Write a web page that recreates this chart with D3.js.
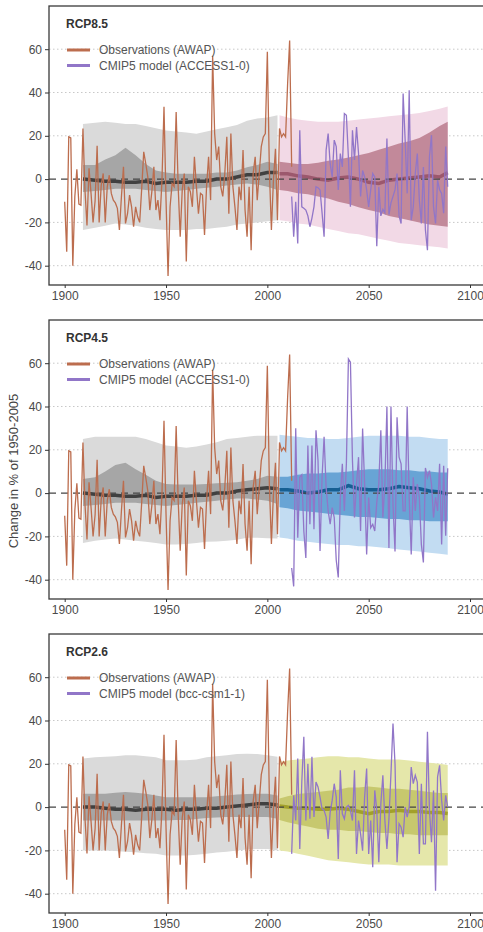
<!DOCTYPE html>
<html>
<head>
<meta charset="utf-8">
<script src="https://cdn.jsdelivr.net/npm/d3@7"></script>
<style>
  body { margin: 0; background: #fff; }
  svg { display: block; }
  text { font-family: "Liberation Sans", Arial, sans-serif; }
</style>
</head>
<body>
<svg id="chart" width="483" height="932"></svg>
<script>
//------------------------------------------------------//
// Data
//------------------------------------------------------//
const obsFirstYear = 1900;
const obsValues = [
  -10.5, -33.5, 19.5, 19, -40, -8, 4.5, -11.5, -12, 23.4,
  -5, -21.4, 5, -6.6, -20, -10, 15.4, -20, -3, 2.6,
  -20, -3.5, 1.8, -6.6, -9.7, -11, -13.5, -23.5, -8, 5.7,
  -20.5, -16, -7.4, -12.8, -22, -12.8, -17.4, -20, -4.3, 12.6,
  7.2, 1, -14.3, -5.8, 5.7, -14.3, -9.7, -19, -0.5, 33.4,
  -9.7, -44.8, -12.8, -2, -3.5, 31, -3.5, -26.6, -5, 2.6,
  -38, -3.5, -5.8, -12.8, 10.3, -3.5, -16, -6.6, -7.4, -25.8,
  -3.5, 10.3, -9.7, 57, 21, 8.8, 15, -3.5, -8, 2.6,
  19.5, -16, 21, -3.5, -12.8, -23.5, -3.5, -9.7, 13.4, -14.3,
  -26.6, -3.5, -32.8, 2.6, 10.3, -9.7, 2.6, 15, 19.5, 21,
  58.8, 4, -23.5, -0.5, 14, -19, 23.4, 19.5, 21, 19.5,
  44, 64, 5.7
];

const modelFirstYear = 2012;
const modelRcp85 = [
  -8, -26.6, -10.5, -29.7, 22.6, -12.8, -13.5, -14.3, -17, -22,
  -18, -12.8, -3.5, -4, -5, -15.6, -26.6, 13.4, 21, 7,
  1, 18, 15, -5, 11.8, 5.6, 30.3, 29.5, 10, -12.8,
  22.6, 8.8, 24, 11.8, -8, 4, 1, -5, -12.8, -5,
  2.6, 1, -31, -3.5, -17, -14, -15.6, 18.8, -16.4, -11,
  -8, -5, 2.6, -17, -20.5, 39.5, 18, -6.6, 41, -19,
  -12.8, 2.6, 11.8, -9.7, -20.5, 5.6, -23.5, -32.8, 10.3, 20.3,
  -12.8, -20.5, -0.5, -5, -6.6, -15.8, 15, -3.5
];
const modelRcp45 = [
  -34.6, -43.1, 30, -20.6, 7.3, 8.5, -17.5, -30, 22, -14.4,
  22, -16.7, 29, 15, -26.7, 7.3, 26, 2.6, -8.2, -14.4,
  -6.7, -11.3, -31, -39, -2, 13.5, -8.2, 13.5, 62, 60.5,
  15, -11.3, 4.2, 16.6, -17.5, 29.8, 4.2, -28.4, -2, -16,
  -14.4, -17.5, -4.3, 4.2, 29, -11.3, 4.2, 40, -25.4, 40,
  -5, -27, 35, 16.6, 13.5, -8.2, -8.2, 40, -2, -28.4,
  7.3, -8.2, 4.2, -2, -23.7, -32, 11.6, 7.3, 10.4, 4.2,
  -11.3, -2, -8.2, 13.5, -23.7, 12.6, -19.7, 11.5
];
const modelRcp26 = [
  -21.6, 5.4, -6.2, 22.4, -19.3, 11.6, 32.5, -6.2, 20, -5.4,
  23.2, -4.6, 11.6, 9.3, 4.6, -0.8, -1.5, -4.6, -14.7, -2.3,
  3.1, 10.8, 4.6, -24, 17, -3.1, -5.4, 0, 0.8, -1.5,
  -6.2, 17, -21.6, -6.2, -12.4, -20.1, 4.6, 17.8, -21.6, -6.2,
  -27.8, 7.7, -1.5, -25.5, 1.5, 14.7, -6.2, -19.3, -5.4, 15.5,
  38.6, 20, -25.5, -7.7, -9.3, -13.9, 0, -4.6, 0, 18.5,
  10.8, 14.7, 11.6, -21.6, 10.8, -17, -17, 34.8, -1.5, -16.2,
  7.7, -38.6, 14, 19.3, 3.1, -6.2, 5.4, 0
];

// historical ensemble (1909-2005)
const histYears = [1909, 1915, 1920, 1925, 1930, 1935, 1940, 1945, 1950, 1955,
  1960, 1965, 1970, 1975, 1980, 1985, 1990, 1995, 2000, 2005];

const hist85OuterHi = [25.5, 26, 26.5, 26, 25.5, 25.5, 24.5, 23.5, 22.5, 22, 21.5, 21, 22, 23, 24, 25, 27, 28, 28.5, 29.5];
const hist85OuterLo = [-23.5, -22.5, -21.5, -20.5, -21, -21.5, -22.5, -23, -23.5, -23.5, -23.5, -23, -23, -22.5, -22, -21, -20.5, -20, -19.5, -19];
const hist85InnerHi = [6.5, 6.5, 9, 11, 14.5, 11, 7, 4, 3, 2.5, 2.5, 2.5, 2.5, 3, 3, 4, 5.5, 6.5, 8, 7];
const hist85InnerLo = [-6, -5.5, -5, -4.5, -4.5, -4.5, -5, -5.5, -6, -5.5, -5, -4.5, -4, -3.5, -3, -2.5, -2, -2.5, -3.5, -5];
const hist85Median = [0, -0.5, -1, -1, -1.5, -1.5, -1, -2, -1.5, -1.5, -1.5, -1, -1, 0, 0, 1, 2, 2, 3, 3];

const hist45OuterHi = [25, 26, 26, 26, 26, 26, 25, 23.5, 22, 21.5, 21, 21.5, 22.5, 23.5, 25, 25.5, 26, 26.5, 26.5, 26.5];
const hist45OuterLo = [-23, -22, -21.4, -21, -21.4, -22, -22.5, -23, -23.7, -23.7, -23.5, -23, -22.5, -22.3, -22, -21.5, -20.6, -20.6, -20.8, -21];
const hist45InnerHi = [6.5, 7.3, 10, 13, 14, 11, 8.5, 5.7, 4.2, 4, 4, 4, 4.2, 4.5, 4.8, 5, 5.7, 6.5, 8, 7.5];
const hist45InnerLo = [-6, -5.5, -5, -4.5, -4.5, -4.5, -5, -5.5, -6, -5.5, -5, -4.5, -4, -3.5, -3, -2.5, -2.5, -3, -3.5, -5];
const hist45Median = [0, -0.5, -1, -1, -1.5, -1.5, -1, -2, -1.5, -1.5, -1.5, -1, -1, 0, 0, 1, 1.5, 2, 2.5, 2];

const hist26OuterHi = [22.4, 23, 23.2, 23.5, 24, 24, 23.5, 23, 21.6, 21.6, 21.6, 22, 23, 23.5, 24, 24.5, 24.7, 24.5, 24, 23.2];
const hist26OuterLo = [-20, -20, -20, -20.3, -20.6, -20.9, -21.3, -21.6, -22.4, -22.4, -22.4, -22, -21.6, -21, -20.6, -20, -19.6, -19.3, -19.3, -20];
const hist26InnerHi = [6.2, 6.2, 6.2, 6.6, 7, 6.6, 6.2, 5.4, 4.6, 4.6, 4.6, 4.6, 4.6, 5, 5.4, 5.8, 6, 6.2, 6.2, 5.4];
const hist26InnerLo = [-6.2, -6.2, -6.2, -6.2, -6.2, -6.2, -6.2, -6.2, -6.2, -6, -6, -5.5, -5, -4.8, -4.6, -4.6, -4.6, -4.6, -4.6, -5.4];
const hist26Median = [0, 0, -0.5, -1, -1, -1.5, -1, -1, -1, -1.5, -1, -1, -0.5, -0.5, 0, 0.5, 1, 1.5, 1.5, 1];

// projections (2006-2089)
const futYears = [2006, 2010, 2015, 2020, 2025, 2030, 2035, 2040, 2045, 2050,
  2055, 2060, 2065, 2070, 2075, 2080, 2085, 2089];

const rcp85OuterHi = [29.5, 28.5, 27.5, 27, 26.5, 26.5, 26.5, 27, 27.5, 28, 28.5, 29, 29.5, 30, 30.5, 31.5, 32.5, 33.5];
const rcp85OuterLo = [-19, -19.5, -20.5, -21, -22, -23, -24, -25, -25.5, -26.5, -27.5, -28.5, -29.5, -30, -30.5, -31, -31.5, -32];
const rcp85InnerHi = [8, 7.5, 7, 7, 7.5, 8.5, 9, 10, 11, 12, 13.5, 15, 16.5, 17.5, 19, 21.5, 24.5, 26.5];
const rcp85InnerLo = [-5, -5.5, -6.5, -7, -8, -9, -10.5, -11.5, -13, -14.3, -15.3, -17, -18, -19, -20, -21, -21.5, -22];
const rcp85Median = [2.5, 2.5, 1.5, 1, 0, -0.5, 0.5, 1, 0, -1.5, -2, -0.5, 0, 0.5, 1, 1.5, 1, 3];

const rcp45OuterHi = [27, 26.5, 26, 25.5, 25.5, 25, 25, 25.5, 26, 26.5, 26.5, 26.5, 26.5, 26, 26, 25.5, 25, 25];
const rcp45OuterLo = [-20.5, -21, -22, -22.5, -23, -23.5, -24, -24, -24.5, -24.5, -25, -25.5, -26, -26.5, -27, -27.5, -28, -28.5];
const rcp45InnerHi = [7.5, 7.5, 8.5, 9, 9, 9.5, 9.5, 10, 10.5, 11, 11, 11, 10.5, 10.5, 10, 10, 9.5, 9.5];
const rcp45InnerLo = [-6.5, -7, -8, -8.5, -9, -9.5, -10, -10.5, -11, -11, -11.5, -12, -12, -12.5, -12.5, -13, -13, -13];
const rcp45Median = [1.5, 1.5, 1, 0, 0.5, 1.5, 1.5, 3.5, 2, 1.5, 1.5, 2, 3, 2.5, 2, 1, 0.5, -0.5];

const rcp26OuterHi = [21, 21.5, 22, 22.5, 23, 23.5, 23.5, 23, 23, 22.5, 22, 22, 22, 21.5, 21, 20.5, 20, 19.5];
const rcp26OuterLo = [-20, -20.5, -21.5, -22.5, -23.5, -24.5, -25, -25.5, -26, -26.5, -26.5, -26.5, -27, -27, -27, -27, -27, -27];
const rcp26InnerHi = [4, 5, 6, 6.5, 7, 7.5, 8, 9, 9, 9.5, 9, 8.5, 8.5, 8, 7.5, 7, 6.5, 6.5];
const rcp26InnerLo = [-6, -7, -8, -9, -10, -10.5, -10.5, -11, -11, -11.5, -12, -12, -12.5, -12.5, -13, -13, -13, -13];
const rcp26Median = [0.5, 0, -0.5, -0.5, -1, -1, -0.5, -1, -2, -3, -2, -2, -1.5, -2, -2, -2.5, -2.5, -3];

const yTicks = [-40, -20, 0, 20, 40, 60];
const xTicks = [1900, 1950, 2000, 2050, 2100];

//------------------------------------------------------//
// Panel set-up
//------------------------------------------------------//
const panels = [
  { name: "RCP8.5", model: "CMIP5 model (ACCESS1-0)", modelValues: modelRcp85,
    hist: [hist85OuterHi, hist85OuterLo, hist85InnerHi, hist85InnerLo, hist85Median],
    fut: [rcp85OuterHi, rcp85OuterLo, rcp85InnerHi, rcp85InnerLo, rcp85Median],
    colors: ["#f2d9e6", "#c2899a", "#9c586d"] },
  { name: "RCP4.5", model: "CMIP5 model (ACCESS1-0)", modelValues: modelRcp45,
    hist: [hist45OuterHi, hist45OuterLo, hist45InnerHi, hist45InnerLo, hist45Median],
    fut: [rcp45OuterHi, rcp45OuterLo, rcp45InnerHi, rcp45InnerLo, rcp45Median],
    colors: ["#c2dcf2", "#68a4d5", "#165f93"] },
  { name: "RCP2.6", model: "CMIP5 model (bcc-csm1-1)", modelValues: modelRcp26,
    hist: [hist26OuterHi, hist26OuterLo, hist26InnerHi, hist26InnerLo, hist26Median],
    fut: [rcp26OuterHi, rcp26OuterLo, rcp26InnerHi, rcp26InnerLo, rcp26Median],
    colors: ["#e5e7aa", "#c7c86e", "#a2a02a"] }
];

const panelTops = [6, 320, 634];
const boxLeft = 49, boxRight = 487, boxH = 279;
const obsColor = "#bc6d4e";
const modelColor = "#9176c8";

const svg = d3.select("#chart");
const x = d3.scaleLinear().domain([1900, 2100]).range([64.7, 470]);

const obsData = obsValues.map((v, i) => ({ year: obsFirstYear + i, v }));

panels.forEach((p, i) => {
  const top = panelTops[i];
  const y = d3.scaleLinear().domain([-40, 60]).range([top + 259.7, top + 43.2]);
  const g = svg.append("g");

  const clipId = "clip" + i;
  svg.append("clipPath").attr("id", clipId)
    .append("rect").attr("x", boxLeft).attr("y", top).attr("width", boxRight - boxLeft).attr("height", boxH);
  const plot = g.append("g").attr("clip-path", `url(#${clipId})`);

  // grid
  plot.selectAll(".grid").data(yTicks.filter(t => t !== 0)).join("line")
    .attr("x1", boxLeft).attr("x2", boxRight)
    .attr("y1", d => y(d)).attr("y2", d => y(d))
    .attr("stroke", "#c8c8c8").attr("stroke-width", 1).attr("stroke-dasharray", "1.5,2.5");

  const band = (years, hi, lo) => d3.area()
    .x((d, k) => x(years[k])).y0((d, k) => y(lo[k])).y1((d, k) => y(hi[k]))(years);
  const line = (years, vals) => d3.line()
    .x((d, k) => x(years[k])).y((d, k) => y(vals[k]))(years);

  // historical ensemble
  plot.append("path").attr("d", band(histYears, p.hist[0], p.hist[1])).attr("fill", "#dadada");
  plot.append("path").attr("d", band(histYears, p.hist[2], p.hist[3])).attr("fill", "#a6a6a6");
  // projection ensemble
  plot.append("path").attr("d", band(futYears, p.fut[0], p.fut[1])).attr("fill", p.colors[0]);
  plot.append("path").attr("d", band(futYears, p.fut[2], p.fut[3])).attr("fill", p.colors[1]);

  // medians
  plot.append("path").attr("d", line(histYears, p.hist[4]))
    .attr("fill", "none").attr("stroke", "#404040").attr("stroke-width", 3.5);
  plot.append("path").attr("d", line(futYears, p.fut[4]))
    .attr("fill", "none").attr("stroke", p.colors[2]).attr("stroke-width", 3.5);

  // zero line
  plot.append("line").attr("x1", boxLeft).attr("x2", boxRight)
    .attr("y1", y(0)).attr("y2", y(0))
    .attr("stroke", "#444").attr("stroke-width", 1.4).attr("stroke-dasharray", "7,5");

  // observations and model
  plot.append("path").datum(obsData)
    .attr("d", d3.line().x(d => x(d.year)).y(d => y(d.v)))
    .attr("fill", "none").attr("stroke", obsColor).attr("stroke-width", 1.3);
  const modelData = p.modelValues.map((v, k) => ({ year: modelFirstYear + k, v }));
  plot.append("path").datum(modelData)
    .attr("d", d3.line().x(d => x(d.year)).y(d => y(d.v)))
    .attr("fill", "none").attr("stroke", modelColor).attr("stroke-width", 1.3);

  // frame
  g.append("rect").attr("x", boxLeft).attr("y", top).attr("width", boxRight - boxLeft).attr("height", boxH)
    .attr("fill", "none").attr("stroke", "#3a3a3a").attr("stroke-width", 1.3);

  // axes
  const ya = g.append("g").attr("transform", `translate(${boxLeft},0)`)
    .call(d3.axisLeft(y).tickValues(yTicks).tickSize(4).tickPadding(3).tickFormat(d => String(d)));
  const xa = g.append("g").attr("transform", `translate(0,${top + boxH})`)
    .call(d3.axisBottom(x).tickValues(xTicks).tickSize(3).tickPadding(3).tickFormat(d => String(d)));
  [ya, xa].forEach(a => {
    a.select(".domain").remove();
    a.selectAll(".tick line").attr("stroke", "#333");
    a.selectAll(".tick text").attr("fill", "#4a4a4a").attr("font-size", 12)
      .attr("font-family", "'Liberation Sans', Arial, sans-serif");
  });

  // title
  g.append("text").attr("x", 66).attr("y", top + 22)
    .attr("font-size", 12).attr("font-weight", "bold").attr("fill", "#333").text(p.name);

  // legend
  const legend = [["Observations (AWAP)", obsColor], [p.model, modelColor]];
  legend.forEach(([label, color], k) => {
    const ly = top + 44 + k * 15.5;
    g.append("line").attr("x1", 67).attr("x2", 90).attr("y1", ly).attr("y2", ly)
      .attr("stroke", color).attr("stroke-width", 3);
    g.append("text").attr("x", 99).attr("y", ly).attr("dy", "0.35em")
      .attr("font-size", 12).attr("fill", "#555").text(label);
  });
});

// y-axis title
svg.append("text")
  .attr("transform", "translate(18,471) rotate(-90)")
  .attr("text-anchor", "middle").attr("font-size", 13).attr("fill", "#444")
  .text("Change in % of 1950-2005");
</script>
</body>
</html>
